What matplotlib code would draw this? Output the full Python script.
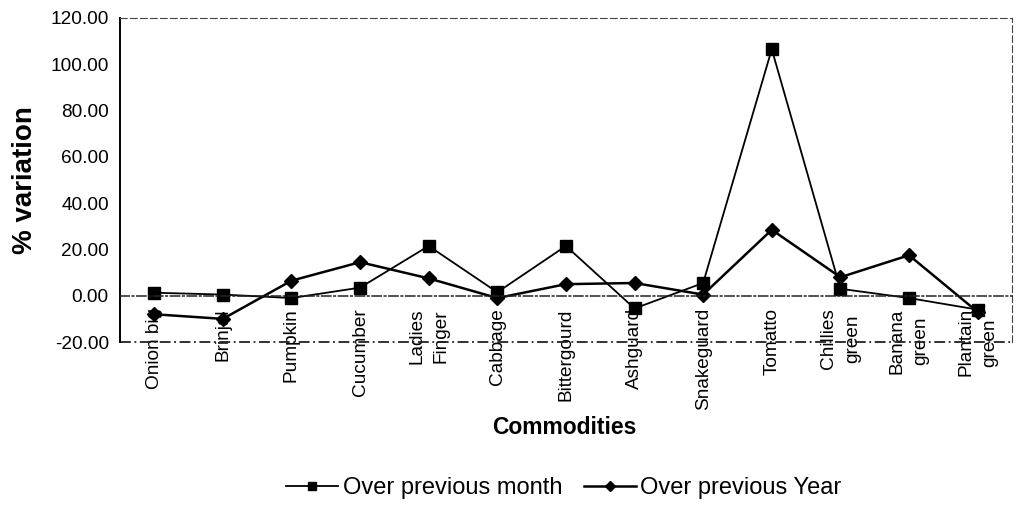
import matplotlib
matplotlib.use("Agg")
import numpy as np
import matplotlib.pyplot as plt
from matplotlib.ticker import FormatStrFormatter

plt.rcParams["font.family"] = ["Liberation Sans", "DejaVu Sans"]

commodities = [
    "Onion big", "Brinjal", "Pumpkin", "Cucumber", "Ladies\nFinger",
    "Cabbage", "Bittergourd", "Ashguard", "Snakeguard", "Tomatto",
    "Chillies\ngreen", "Banana\ngreen", "Plantain\ngreen",
]
over_prev_month = [1.3, 0.5, -1.0, 3.5, 21.5, 1.5, 21.5, -5.5, 5.5, 106.5, 3.0, -1.0, -6.0]
over_prev_year = [-8.0, -10.0, 6.5, 14.5, 7.5, -1.0, 5.0, 5.5, 0.5, 28.5, 8.0, 17.5, -7.0]

x = np.arange(len(commodities)) + 0.5

fig = plt.figure(figsize=(10.16, 5.07), dpi=100)
ax = fig.add_axes([0.118, 0.3254, 0.878, 0.6391])

ax.plot(x, over_prev_month, color="black", lw=1.3, marker="s", markersize=9,
        label="Over previous month")
ax.plot(x, over_prev_year, color="black", lw=1.8, marker="D", markersize=7.5,
        label="Over previous Year")

ax.set_xlim(0, len(commodities))
ax.set_ylim(-20, 120)
ax.set_yticks(np.arange(-20, 121, 20))
ax.yaxis.set_major_formatter(FormatStrFormatter("%.2f"))

# category axis crosses at zero, like the spreadsheet original
ax.spines["bottom"].set_position(("data", 0))
ax.spines["bottom"].set_linestyle((0, (6, 2, 1, 2)))
ax.spines["bottom"].set_color("#222222")
ax.spines["bottom"].set_linewidth(1.1)
for side in ["top", "right"]:
    ax.spines[side].set_linestyle((0, (6, 3)))
    ax.spines[side].set_color("#444444")
ax.spines["left"].set_linewidth(1.4)
ax.axhline(-20, color="#222222", lw=1.3, ls=(0, (6, 2, 1, 2)), clip_on=False)

ax.set_xticks(x)
ax.set_xticklabels(commodities, rotation=90, multialignment="center",
                   fontsize=13.7, linespacing=1.55)
ax.tick_params(axis="x", length=0, pad=9)
ax.tick_params(axis="y", length=0, labelsize=13.7, pad=8)

ax.set_ylabel("% variation", fontsize=20, fontweight="bold", labelpad=9)
fig.text(0.555, 0.156, "Commodities", ha="center", va="center",
         fontsize=16.5, fontweight="bold")

fig.legend(loc="center", bbox_to_anchor=(0.555, 0.0375), ncol=2, frameon=False,
           fontsize=17, handlelength=2.2, handletextpad=0.2, columnspacing=0.9,
           markerscale=0.7)

plt.savefig("out.png", dpi=100)
plt.close()
